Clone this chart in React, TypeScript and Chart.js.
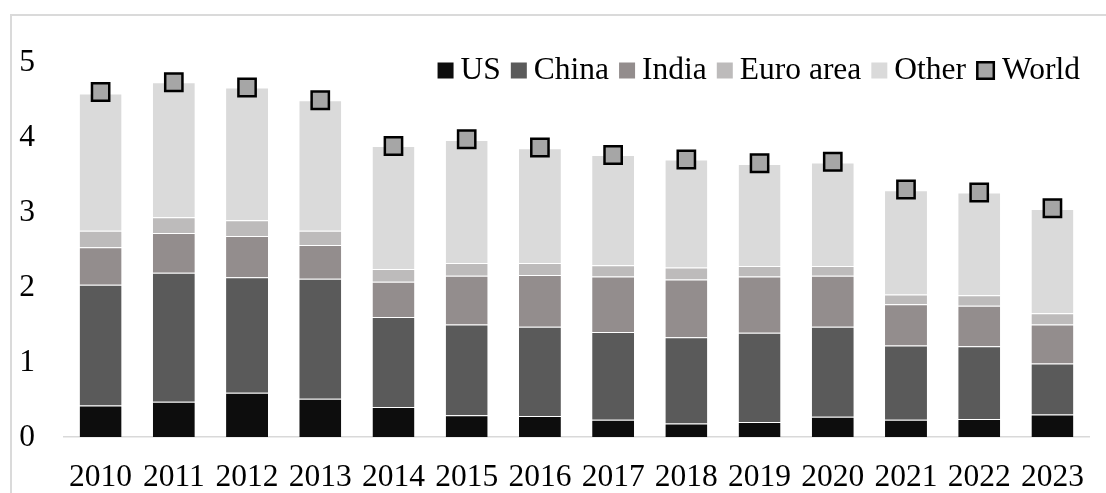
import { useEffect, useRef } from "react";
import { Chart, registerables } from "chart.js";

Chart.register(...registerables);

const years = ["2010", "2011", "2012", "2013", "2014", "2015", "2016", "2017", "2018", "2019", "2020", "2021", "2022", "2023"];
const us = [0.42, 0.47, 0.59, 0.51, 0.40, 0.29, 0.28, 0.23, 0.18, 0.20, 0.27, 0.23, 0.24, 0.30];
const china = [1.61, 1.72, 1.54, 1.60, 1.20, 1.21, 1.19, 1.17, 1.15, 1.19, 1.20, 0.99, 0.97, 0.68];
const india = [0.50, 0.53, 0.55, 0.45, 0.47, 0.65, 0.69, 0.74, 0.77, 0.75, 0.68, 0.55, 0.54, 0.52];
const euroArea = [0.22, 0.21, 0.21, 0.19, 0.17, 0.17, 0.16, 0.15, 0.16, 0.14, 0.13, 0.13, 0.14, 0.15];
const other = [1.83, 1.80, 1.77, 1.74, 1.64, 1.64, 1.53, 1.47, 1.44, 1.36, 1.38, 1.39, 1.37, 1.39];
const world = [4.60, 4.73, 4.66, 4.49, 3.88, 3.97, 3.86, 3.76, 3.70, 3.65, 3.67, 3.30, 3.26, 3.05];
const yTickValues = [0, 1, 2, 3, 4, 5];

const FONT = "'Liberation Serif', 'Times New Roman', serif";
const FONT_SIZE = 31.5;

const legendPlugin = {
  id: "customLegend",
  afterDraw(chart: any) {
    const ctx = chart.ctx as CanvasRenderingContext2D;
    ctx.save();
    ctx.font = `${FONT_SIZE}px ${FONT}`;
    ctx.textBaseline = "middle";
    ctx.textAlign = "left";
    const items = chart.data.datasets.map((ds: any) => ({
      label: ds.label,
      color: ds.type === "line" ? ds.pointBackgroundColor : ds.backgroundColor,
      marker: ds.type === "line",
    }));
    let x = 1080;
    const textY = 70.5;
    const boxY = 70.5;
    for (let i = items.length - 1; i >= 0; i--) {
      const it = items[i];
      const w = ctx.measureText(it.label).width;
      x -= w;
      ctx.fillStyle = "#000";
      ctx.fillText(it.label, x, textY);
      x -= 7;
      if (it.marker) {
        const s = 16.5;
        const cx = x - 9.5;
        ctx.fillStyle = it.color;
        ctx.fillRect(cx - s / 2, boxY - s / 2, s, s);
        ctx.lineWidth = 2.5;
        ctx.strokeStyle = "#000";
        ctx.strokeRect(cx - s / 2, boxY - s / 2, s, s);
        x -= 19;
      } else {
        ctx.fillStyle = it.color;
        ctx.fillRect(x - 16, boxY - 8, 16, 16);
        x -= 16;
      }
      x -= 10;
    }
    ctx.restore();
  },
};

export default function App() {
  const ref = useRef<HTMLCanvasElement | null>(null);

  useEffect(() => {
    if (!ref.current) return;
    const segBorder = { top: 1, left: 0, right: 0, bottom: 0 };
    const segBorderColor = "rgba(255,255,255,0.25)";
    const barCommon = {
      type: "bar" as const,
      stack: "s",
      order: 1,
      barPercentage: 0.573,
      categoryPercentage: 1,
      borderWidth: segBorder,
      borderColor: segBorderColor,
      borderSkipped: false,
    };
    const chart = new Chart(ref.current, {
      type: "bar",
      data: {
        labels: years,
        datasets: [
          { ...barCommon, label: "US", data: us, backgroundColor: "#0d0d0d" },
          { ...barCommon, label: "China", data: china, backgroundColor: "#5a5a5a" },
          { ...barCommon, label: "India", data: india, backgroundColor: "#938d8d" },
          { ...barCommon, label: "Euro area", data: euroArea, backgroundColor: "#bdbbbb" },
          { ...barCommon, label: "Other", data: other, backgroundColor: "#dadada" },
          {
            type: "line" as const,
            label: "World",
            data: world,
            order: 0,
            showLine: false,
            pointStyle: "rect",
            pointRadius: 12.2,
            pointHoverRadius: 12.2,
            pointBackgroundColor: "#a6a6a6",
            pointBorderColor: "#000",
            pointBorderWidth: 2.5,
            borderColor: "#000",
            backgroundColor: "#a6a6a6",
          } as any,
        ],
      },
      options: {
        responsive: false,
        animation: false,
        devicePixelRatio: 1,
        layout: { padding: { left: 0, right: 16, top: 54.5, bottom: 0 } },
        plugins: {
          legend: { display: false },
          tooltip: { enabled: false },
        },
        scales: {
          x: {
            stacked: true,
            offset: true,
            grid: { display: false, drawTicks: false },
            border: { display: true, color: "#d9d9d9", width: 1.5 },
            ticks: {
              color: "#000",
              font: { family: FONT, size: FONT_SIZE },
              padding: 21.5,
              maxRotation: 0,
              autoSkip: false,
            },
            afterFit: (scale: any) => {
              scale.height = 56;
            },
          },
          y: {
            stacked: true,
            min: 0,
            max: 5.1,
            grid: { display: false, drawTicks: false },
            border: { display: false },
            ticks: {
              color: "#000",
              font: { family: FONT, size: FONT_SIZE },
              padding: 29,
              labelOffset: 1,
              stepSize: 1,
              includeBounds: false,
            },
            afterBuildTicks: (scale: any) => {
              scale.ticks = yTickValues.map((v) => ({ value: v }));
            },
            afterFit: (scale: any) => {
              scale.width = 64;
            },
          },
        },
      },
      plugins: [legendPlugin],
    } as any);
    return () => chart.destroy();
  }, []);

  return (
    <div
      style={{
        position: "fixed",
        left: 0,
        top: 0,
        width: 1106,
        height: 493,
        overflow: "hidden",
        background: "#fff",
      }}
    >
      <div
        style={{
          position: "absolute",
          left: 10,
          top: 14,
          width: 1200,
          height: 600,
          border: "2px solid #dadada",
        }}
      />
      <canvas
        ref={ref}
        width={1106}
        height={493}
        style={{ position: "absolute", left: 0, top: 0, width: 1106, height: 493 }}
      />
    </div>
  );
}
